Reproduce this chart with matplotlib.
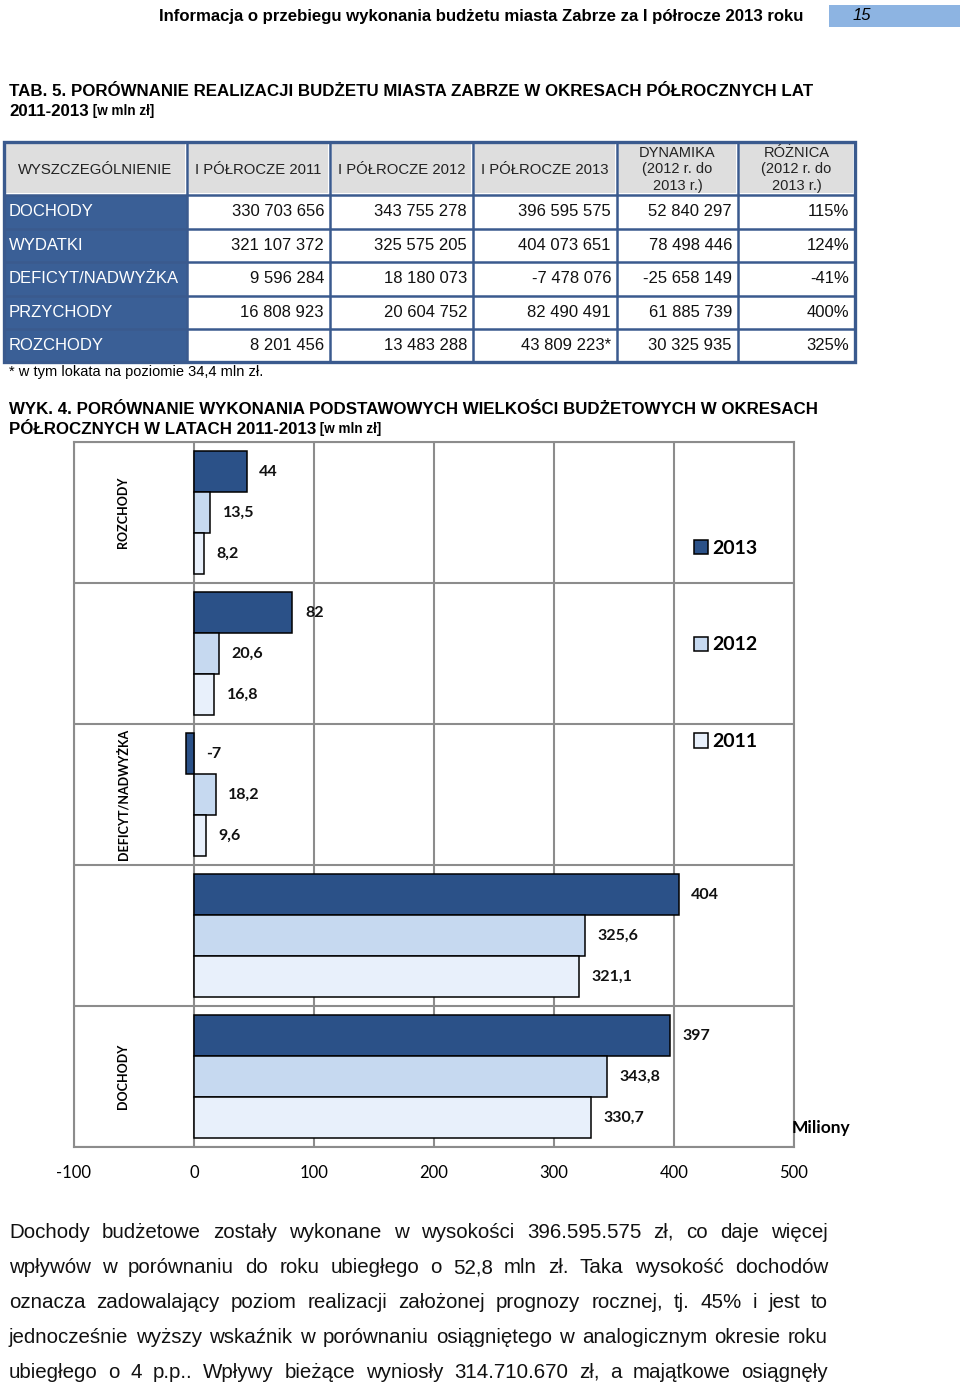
import matplotlib
matplotlib.use('Agg')
import matplotlib.pyplot as plt
from matplotlib import font_manager
from matplotlib.patches import Rectangle, Patch
import numpy as np

# dane wykresu [mln zl]
kategorie = ['DOCHODY', 'WYDATKI', 'DEFICYT/NADWYŻKA', 'PRZYCHODY', 'ROZCHODY']
etykiety_osi = ['DOCHODY', '', 'DEFICYT/NADWYŻKA', '', 'ROZCHODY']
lata = ['2013', '2012', '2011']
w2013 = [397, 404, -7, 82, 44]
w2012 = [343.8, 325.6, 18.2, 20.6, 13.5]
w2011 = [330.7, 321.1, 9.6, 16.8, 8.2]
os_x = [-100, 0, 100, 200, 300, 400, 500]

# dane tabeli
naglowki = ['WYSZCZEGÓLNIENIE', 'I PÓŁROCZE 2011', 'I PÓŁROCZE 2012', 'I PÓŁROCZE 2013',
            'DYNAMIKA\n(2012 r. do\n2013 r.)', 'RÓŻNICA\n(2012 r. do\n2013 r.)']
wiersze = ['DOCHODY', 'WYDATKI', 'DEFICYT/NADWYŻKA', 'PRZYCHODY', 'ROZCHODY']
t2011 = ['330 703 656', '321 107 372', '9 596 284', '16 808 923', '8 201 456']
t2012 = ['343 755 278', '325 575 205', '18 180 073', '20 604 752', '13 483 288']
t2013 = ['396 595 575', '404 073 651', '-7 478 076', '82 490 491', '43 809 223*']
troznica = ['52 840 297', '78 498 446', '-25 658 149', '61 885 739', '30 325 935']
tdynamika = ['115%', '124%', '-41%', '400%', '325%']

tekst = [
    "Dochody budżetowe zostały wykonane w wysokości 396.595.575 zł, co daje więcej",
    "wpływów w porównaniu do roku ubiegłego o 52,8 mln zł. Taka wysokość dochodów",
    "oznacza zadowalający poziom realizacji założonej prognozy rocznej, tj. 45% i jest to",
    "jednocześnie wyższy wskaźnik w porównaniu osiągniętego w analogicznym okresie roku",
    "ubiegłego o 4 p.p.. Wpływy bieżące wyniosły 314.710.670 zł, a majątkowe osiągnęły",
]

installed = {f.name for f in font_manager.fontManager.ttflist}
NARROW = 'Liberation Sans Narrow' if 'Liberation Sans Narrow' in installed else 'Liberation Sans'
ARIAL = 'Liberation Sans'
CAL = 'Lato'

kolory = {'2013': '#2B5188', '2012': '#C6D9F0', '2011': '#E8F0FB'}
niebieski = '#3A5F96'
ramka = '#3A5A8E'
siatka = '#8C8C8C'

fig = plt.figure(figsize=(9.6, 13.87), dpi=100)
page = fig.add_axes([0, 0, 1, 1])
page.set_xlim(0, 960)
page.set_ylim(1387, 0)
page.axis('off')
renderer = fig.canvas.get_renderer()


def fit(t, width):
    w = t.get_window_extent(renderer).width
    t.set_fontsize(t.get_fontsize() * width / w)


def justify(line, x0, x1, y, **kw):
    words = line.split()
    txts = [page.text(0, y, w, **kw) for w in words]
    widths = [t.get_window_extent(renderer).width for t in txts]
    gap = (x1 - x0 - sum(widths)) / (len(words) - 1)
    x = x0
    for t, w in zip(txts, widths):
        t.set_x(x)
        x += w + gap


# naglowek strony
page.add_patch(Rectangle((829, 5), 131, 22, color='#8DB4E2', lw=0))
page.text(853, 16, '15', family=ARIAL, style='italic', fontsize=12, va='center')
t = page.text(803, 16, 'Informacja o przebiegu wykonania budżetu miasta Zabrze za I półrocze 2013 roku',
              family=NARROW, weight='bold', fontsize=11, ha='right', va='center')
fit(t, 649)

# tytul tabeli
t = page.text(9, 91, 'TAB. 5. PORÓWNANIE REALIZACJI BUDŻETU MIASTA ZABRZE W OKRESACH PÓŁROCZNYCH LAT',
              family=NARROW, weight='bold', fontsize=12, va='center')
fit(t, 802)
fs_tyt = t.get_fontsize()
t2 = page.text(9, 111, '2011-2013', family=NARROW, weight='bold', fontsize=fs_tyt, va='center')
page.annotate(' [w mln zł]', xy=(1, 0), xycoords=t2, family=NARROW, weight='bold',
              fontsize=fs_tyt * 0.8, va='bottom')

# tabela
kx = [4, 187, 330, 473, 617, 738, 855]
ky = [142, 195, 228.5, 262, 295.5, 329, 362]
for j in range(6):
    page.add_patch(Rectangle((kx[j] + 2, ky[0] + 2), kx[j + 1] - kx[j] - 4, ky[1] - ky[0] - 4,
                             color='#DEDEDE', lw=0))
    page.text((kx[j] + kx[j + 1]) / 2, (ky[0] + ky[1]) / 2 + 1, naglowki[j], family=ARIAL,
              fontsize=10.7 if j < 4 else 10.5, ha='center', va='center', linespacing=1.2,
              color='#222222')
page.add_patch(Rectangle((kx[0], ky[1]), kx[1] - kx[0], ky[-1] - ky[1], color=niebieski, lw=0))
kolumny = [t2011, t2012, t2013, troznica, tdynamika]
for i in range(5):
    yc = (ky[i + 1] + ky[i + 2]) / 2
    page.text(9, yc, wiersze[i], family=ARIAL, fontsize=12, color='white', va='center')
    for j, kol in enumerate(kolumny):
        page.text(kx[j + 2] - 6, yc, kol[i], family=ARIAL, fontsize=12, ha='right', va='center',
                  color='#111111')
for y in ky:
    page.plot([kx[0], kx[-1]], [y, y], color=ramka, lw=1.8)
for x in kx:
    page.plot([x, x], [ky[0], ky[-1]], color=ramka, lw=1.8)
page.add_patch(Rectangle((kx[0], ky[0]), kx[-1] - kx[0], ky[-1] - ky[0], fill=False,
                         edgecolor=ramka, lw=2.4))
page.text(9, 372, '* w tym lokata na poziomie 34,4 mln zł.', family=ARIAL, fontsize=10.5, va='center')

# tytul wykresu
t = page.text(9, 409, 'WYK. 4. PORÓWNANIE WYKONANIA PODSTAWOWYCH WIELKOŚCI BUDŻETOWYCH W OKRESACH',
              family=NARROW, weight='bold', fontsize=12, va='center')
fit(t, 807)
t2 = page.text(9, 429, 'PÓŁROCZNYCH W LATACH 2011-2013', family=NARROW, weight='bold',
               fontsize=t.get_fontsize(), va='center')
page.annotate(' [w mln zł]', xy=(1, 0), xycoords=t2, family=NARROW, weight='bold',
              fontsize=t.get_fontsize() * 0.8, va='bottom')

# wykres
ax = fig.add_axes([74 / 960, 1 - 1147 / 1387, 720 / 960, 705 / 1387])
y = np.arange(len(kategorie))
h = 0.29
for off, rok, wart in [(h, '2013', w2013), (0, '2012', w2012), (-h, '2011', w2011)]:
    ax.barh(y + off, wart, height=h, color=kolory[rok], edgecolor='black', lw=1.1, zorder=3)
    for yi, v in zip(y, wart):
        ax.annotate(f'{v:g}'.replace('.', ','), xy=(max(v, 0), yi + off), xytext=(9, 0),
                    textcoords='offset points', ha='left', va='center', family=CAL,
                    weight='bold', fontsize=11.5, color='#111111')
ax.set_xlim(-100, 500)
ax.set_ylim(-0.5, 4.5)
ax.set_xticks(os_x)
ax.set_xticklabels([str(v) for v in os_x], family=CAL, fontsize=12)
ax.tick_params(axis='x', length=0, pad=13)
ax.set_yticks([])
ax.set_yticks(np.arange(-0.5, 5), minor=True)
ax.tick_params(axis='y', which='both', length=0)
ax.grid(axis='x', color=siatka, lw=1.5, zorder=0)
ax.grid(axis='y', which='minor', color=siatka, lw=1.5, zorder=0)
for s in ax.spines.values():
    s.set_color(siatka)
    s.set_linewidth(1.5)
for yi, lab in zip(y, etykiety_osi):
    ax.text(0.068, yi, lab, transform=ax.get_yaxis_transform(), rotation=90, ha='center',
            va='center', family=CAL, weight='bold', fontsize=9)

uchwyty = [Patch(facecolor=kolory[r], edgecolor='black', lw=1.1, label=r) for r in lata]
fig.legend(handles=uchwyty, loc='center left', bbox_to_anchor=(684 / 960, 1 - 645 / 1387),
           frameon=False, borderpad=0, handlelength=0.75, handleheight=0.75, handletextpad=0.2,
           labelspacing=4.1, prop={'family': CAL, 'weight': 'bold', 'size': 14})
fig.text(792 / 960, 1 - 1128 / 1387, 'Miliony', family=CAL, weight='bold', fontsize=12.5,
         va='center')

# tekst pod wykresem
for i, line in enumerate(tekst):
    justify(line, 9, 828, 1238 + 35 * i, family=NARROW, fontsize=15 if NARROW != ARIAL else 14.8,
            va='baseline', color='#111111')

fig.savefig('out.png', dpi=100)
